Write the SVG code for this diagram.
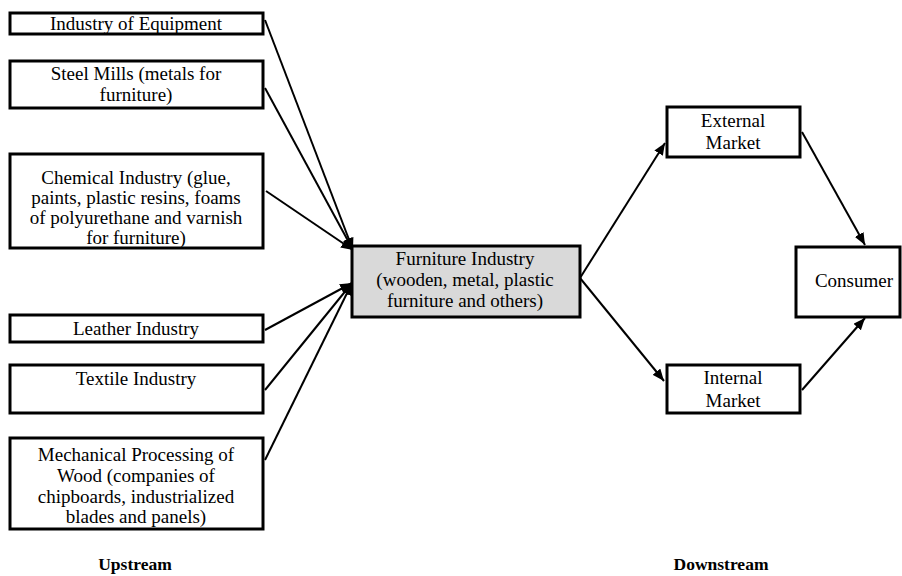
<svg xmlns="http://www.w3.org/2000/svg" width="902" height="576" viewBox="0 0 902 576">
  <defs>
    <marker id="arrow" viewBox="0 0 12 10" refX="12" refY="5" markerWidth="12" markerHeight="10" markerUnits="userSpaceOnUse" orient="auto">
      <path d="M0,0 L12,5 L0,10 z" fill="#000"/>
    </marker>
    <style>
      .box { fill: #fff; stroke: #000; stroke-width: 3; }
      .hub { fill: #d9d9d9; stroke: #000; stroke-width: 3; }
      text { font-family: "Liberation Serif", "Times New Roman", serif; fill: #000; text-anchor: middle; }
      .lbl { font-size: 19px; }
      .cap { font-size: 17.5px; font-weight: bold; }
      .edge { stroke: #000; stroke-width: 2; fill: none; marker-end: url(#arrow); }
    </style>
  </defs>
  <rect width="902" height="576" fill="#fff"/>

  <!-- connectors -->
  <g id="connectors">
    <line class="edge" x1="265" y1="20" x2="353" y2="250"/>
    <line class="edge" x1="265" y1="88" x2="353" y2="250"/>
    <line class="edge" x1="266" y1="191" x2="353" y2="250"/>
    <line class="edge" x1="265" y1="330" x2="352" y2="283"/>
    <line class="edge" x1="265" y1="390" x2="352" y2="283"/>
    <line class="edge" x1="265" y1="460" x2="352" y2="283"/>
    <line class="edge" x1="580" y1="278" x2="665" y2="143"/>
    <line class="edge" x1="580" y1="278" x2="664" y2="381"/>
    <line class="edge" x1="802" y1="132" x2="865" y2="245"/>
    <line class="edge" x1="802" y1="390" x2="865" y2="318"/>
  </g>

  <!-- upstream suppliers -->
  <g id="equipment">
    <rect class="box" x="10" y="13" width="253" height="21"/>
    <text class="lbl" x="136" y="30">Industry of Equipment</text>
  </g>
  <g id="steel">
    <rect class="box" x="10" y="61" width="253" height="47"/>
    <text class="lbl" x="136" y="80">Steel Mills (metals for</text>
    <text class="lbl" x="136" y="101">furniture)</text>
  </g>
  <g id="chemical">
    <rect class="box" x="10" y="154" width="253" height="94"/>
    <text class="lbl" x="136" y="184">Chemical Industry (glue,</text>
    <text class="lbl" x="136" y="204">paints, plastic resins, foams</text>
    <text class="lbl" x="136" y="224">of polyurethane and varnish</text>
    <text class="lbl" x="136" y="244">for furniture)</text>
  </g>
  <g id="leather">
    <rect class="box" x="10" y="315" width="253" height="27"/>
    <text class="lbl" x="136" y="335">Leather Industry</text>
  </g>
  <g id="textile">
    <rect class="box" x="10" y="365" width="253" height="48"/>
    <text class="lbl" x="136" y="385">Textile Industry</text>
  </g>
  <g id="wood">
    <rect class="box" x="10" y="438" width="253" height="91"/>
    <text class="lbl" x="136" y="461">Mechanical Processing of</text>
    <text class="lbl" x="136" y="482">Wood (companies of</text>
    <text class="lbl" x="136" y="503">chipboards, industrialized</text>
    <text class="lbl" x="136" y="523">blades and panels)</text>
  </g>

  <!-- focal industry -->
  <g id="furniture">
    <rect class="hub" x="352" y="246" width="228" height="71"/>
    <text class="lbl" x="465" y="265">Furniture Industry</text>
    <text class="lbl" x="465" y="286">(wooden, metal, plastic</text>
    <text class="lbl" x="465" y="307">furniture and others)</text>
  </g>

  <!-- downstream -->
  <g id="external">
    <rect class="box" x="667" y="107" width="133" height="50"/>
    <text class="lbl" x="733" y="127">External</text>
    <text class="lbl" x="733" y="149">Market</text>
  </g>
  <g id="internal">
    <rect class="box" x="667" y="365" width="133" height="48"/>
    <text class="lbl" x="733" y="384">Internal</text>
    <text class="lbl" x="733" y="407">Market</text>
  </g>
  <g id="consumer">
    <rect class="box" x="796" y="247" width="104" height="70"/>
    <text class="lbl" x="854" y="287">Consumer</text>
  </g>

  <!-- stage captions -->
  <text class="cap" x="135" y="570">Upstream</text>
  <text class="cap" x="721" y="570">Downstream</text>
</svg>
